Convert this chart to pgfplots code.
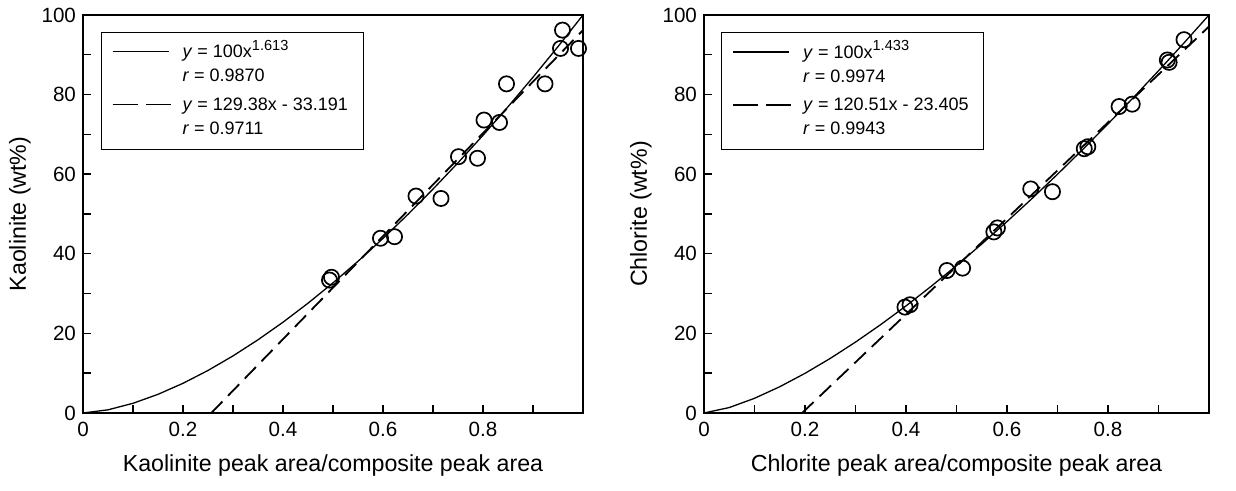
\documentclass[border=0pt]{standalone}
\usepackage{fontspec}
\setmainfont{Liberation Sans}
\usepackage{pgfplots}
\pgfplotsset{compat=1.18}
\pgfplotsset{
  myax/.style={
    scale only axis, width=250pt, height=199pt,
    xmin=0,xmax=1,ymin=0,ymax=100,
    xtick={0,0.2,0.4,0.6,0.8}, minor xtick={0.1,0.3,0.5,0.7,0.9},
    ytick={0,20,...,100}, minor ytick={10,30,50,70,90},
    xtick pos=left, ytick pos=left, tick align=inside,
    major tick length=4pt, minor tick length=4pt,
    axis line style={line width=1.35pt},
    every tick/.style={black, line width=0.7pt},
    /pgf/number format/assume math mode=true,
    ticklabel style={font=\fontsize{10.3}{12}\selectfont},
    xticklabel style={yshift=-1pt},
    label style={font=\fontsize{11.6}{13}\selectfont},
    legend cell align=left,
    legend style={anchor=north west, draw=black, line width=0.5pt,
      font=\fontsize{9}{12}\selectfont, inner xsep=5.5pt, inner ysep=2pt,
      row sep=-1.8pt, nodes={text depth=}},
  },
  solidfit/.style={black, line width=0.65pt,
    legend image code/.code={\draw[##1] (0pt,6.5pt) -- (28pt,6.5pt);}},
  dashfit/.style={black, line width=0.9pt, dash pattern=on 8pt off 4pt,
    legend image code/.code={\draw[##1, line width=0.75pt, dash pattern=on 12.5pt off 4pt] (0pt,6.5pt) -- (29pt,6.5pt);}},
  pts/.style={black, only marks, mark=o, mark size=3.8pt, mark options={line width=0.85pt, solid}},
}
\newcommand\lgd[2]{\begin{tabular}[t]{@{\hspace{3.5pt}}l@{}}#1\\ #2\end{tabular}}
\newcommand\supx[1]{\raisebox{0.42em}{\fontsize{7.3}{8}\selectfont #1}}
\begin{document}
\begin{tikzpicture}
\useasboundingbox (-41.5pt,-39pt) rectangle (576.5pt,206.5pt);
% ---------------- Left: Kaolinite
\begin{axis}[myax, at={(0pt,0pt)}, anchor=south west,
  xlabel={Kaolinite peak area/composite peak area},
  ylabel={Kaolinite (wt\%)},
  xlabel style={at={(axis description cs:0.5,-0.131)}, anchor=center},
  ylabel style={at={(axis description cs:-0.126,0.5)}, anchor=center},
  legend style={at={(axis description cs:0.035,0.958)}},
]
\addplot[solidfit] coordinates {
(0,0) (0.05,0.797) (0.1,2.437) (0.15,4.689) (0.2,7.458) (0.25,10.687)
(0.3,14.343) (0.35,18.393) (0.4,22.811) (0.45,27.584) (0.5,32.692)
(0.55,38.124) (0.6,43.868) (0.65,49.914) (0.7,56.251) (0.75,62.873)
(0.8,69.770) (0.85,76.940) (0.9,84.371) (0.95,92.059) (1,100)};
\addlegendentry{\lgd{\textit{y} = 100x\supx{1.613}}{\textit{r} = 0.9870}}
\addplot[dashfit] coordinates {(0.2566,0) (1,96.19)};
\addlegendentry{\lgd{\textit{y} = 129.38x - 33.191}{\textit{r} = 0.9711}}
\addplot[pts, forget plot] coordinates {
(0.999,100.2) (0.959,96.2) (0.955,91.6) (0.991,91.6) (0.847,82.7) (0.924,82.7)
(0.802,73.6) (0.833,73.0) (0.751,64.4) (0.789,64.0) (0.666,54.5) (0.716,53.9)
(0.595,43.9) (0.623,44.3) (0.493,33.4) (0.497,34.1)};
\end{axis}
% ---------------- Right: Chlorite
\begin{axis}[myax, at={(310.5pt,0pt)}, anchor=south west, width=252.5pt,
  xlabel={Chlorite peak area/composite peak area},
  ylabel={Chlorite (wt\%)},
  xlabel style={at={(axis description cs:0.5,-0.131)}, anchor=center},
  ylabel style={at={(axis description cs:-0.125,0.5)}, anchor=center},
  legend style={at={(axis description cs:0.034,0.957)}},
]
\addplot[solidfit] coordinates {
(0,0) (0.05,1.367) (0.1,3.689) (0.15,6.598) (0.2,9.963) (0.25,13.716)
(0.3,17.814) (0.35,22.216) (0.4,26.901) (0.45,31.846) (0.5,37.036)
(0.55,42.456) (0.6,48.095) (0.65,53.938) (0.7,59.984) (0.75,66.219)
(0.8,72.634) (0.85,79.223) (0.9,85.986) (0.95,92.913) (1,100)};
\addlegendentry{\lgd{\textit{y} = 100x\supx{1.433}}{\textit{r} = 0.9974}}
\addplot[dashfit] coordinates {(0.1942,0) (1,97.105)};
\addlegendentry{\lgd{\textit{y} = 120.51x - 23.405}{\textit{r} = 0.9943}}
\addplot[pts, forget plot] coordinates {
(0.9505,93.8) (0.9175,88.7) (0.921,88.1) (0.822,77.0) (0.848,77.6)
(0.753,66.4) (0.760,66.9) (0.647,56.3) (0.690,55.6) (0.574,45.5) (0.581,46.5)
(0.481,35.8) (0.512,36.4) (0.398,26.6) (0.408,27.2)};
\end{axis}
\end{tikzpicture}
\end{document}
